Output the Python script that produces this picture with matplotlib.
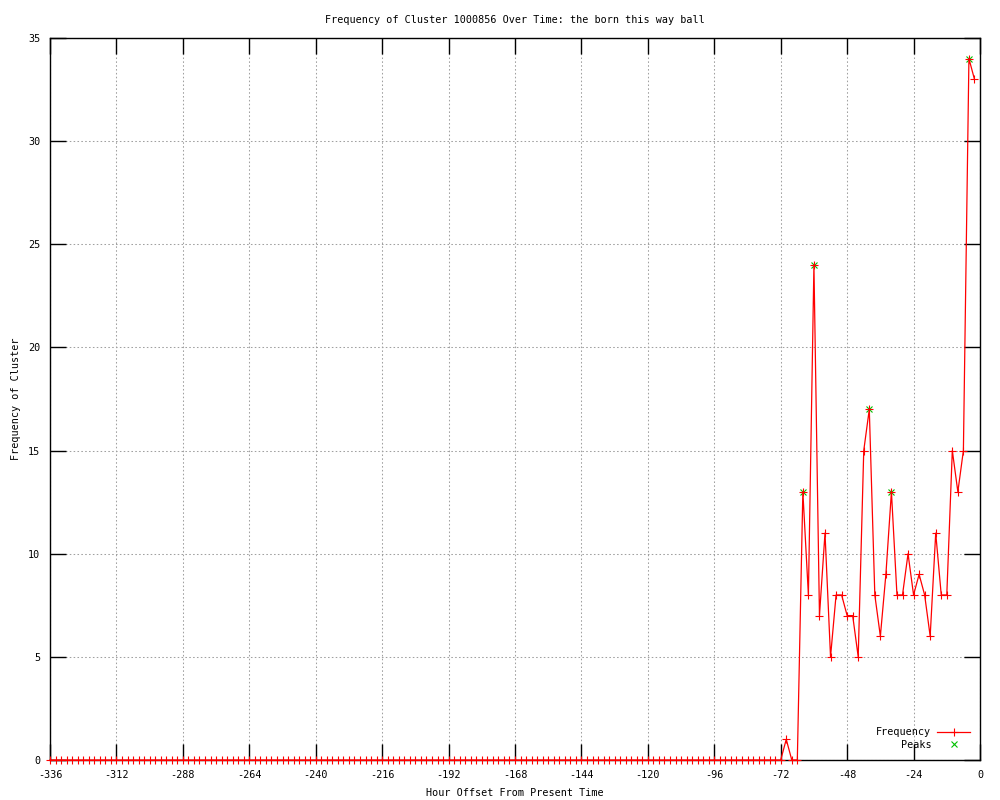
import matplotlib
matplotlib.use('Agg')
import matplotlib.pyplot as plt

# hour offsets, one sample every 2 hours
hours = list(range(-336, 0, 2))

# frequency per sample: flat zeros until -72, then the burst
quiet_zeros = [0] * 133          # -336 .. -72
burst = [1, 0, 0,                # -70, -68, -66
         13, 8, 24, 7, 11, 5, 8, 8, 7, 7, 5, 15, 17, 8, 6, 9,
         13, 8, 8, 10, 8, 9, 8, 6, 11, 8, 8, 15, 13, 15, 34, 33]
freq = quiet_zeros + burst

peak_hours = [-64, -60, -40, -32, -4]
peak_vals = [13, 24, 17, 13, 34]

x_ticks = list(range(-336, 1, 24))
y_ticks = list(range(0, 36, 5))

title = "Frequency of Cluster 1000856 Over Time: the born this way ball"

FS = 7.3
plt.rcParams['font.family'] = ['DejaVu Sans Mono']
plt.rcParams['font.size'] = FS
plt.rcParams['axes.unicode_minus'] = False

fig = plt.figure(figsize=(10, 8), dpi=100)
ax = fig.add_axes([0.05, 0.05, 0.93, 0.9025])

ax.plot(hours, freq, color='red', linewidth=0.9, marker='+', markersize=6,
        markeredgewidth=0.8, label='Frequency', clip_on=False, zorder=3)
ax.plot(peak_hours, peak_vals, linestyle='none', color='#00c000', marker='x',
        markersize=5, markeredgewidth=0.8, label='Peaks', zorder=2.5)

ax.set_xlim(-336, 0)
ax.set_ylim(0, 35)
ax.set_xticks(x_ticks)
ax.set_yticks(y_ticks)
ax.tick_params(direction='in', length=11.5, width=1, top=True, right=True,
               pad=7, labelsize=FS)
ax.grid(True, color='#a0a0a0', linestyle=(0, (1.5, 2.2)), linewidth=0.75)
for s in ax.spines.values():
    s.set_linewidth(1)

ax.set_title(title, fontsize=FS, pad=11)
ax.set_xlabel("Hour Offset From Present Time", fontsize=FS, labelpad=6)
ax.set_ylabel("Frequency of Cluster", fontsize=FS, labelpad=5)

ax.legend(loc='lower right', frameon=False, markerfirst=False, fontsize=FS,
          handlelength=3.2, borderaxespad=0.6, labelspacing=0.25,
          handletextpad=0.6)

plt.savefig('out.png', dpi=100)
